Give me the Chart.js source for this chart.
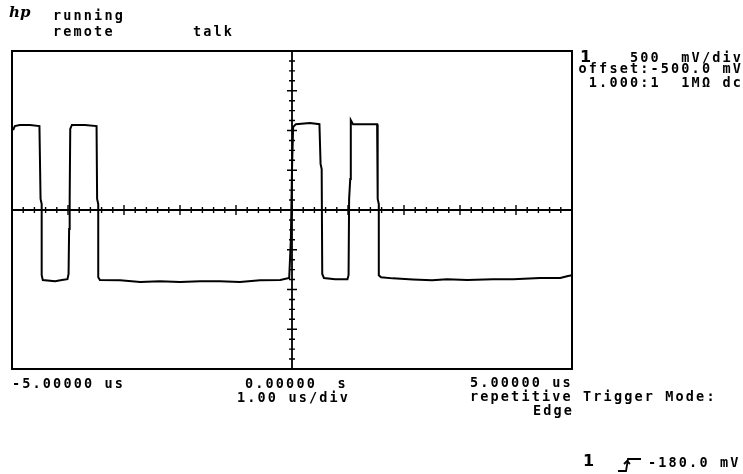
<!DOCTYPE html>
<html>
<head>
<meta charset="utf-8">
<script src="https://cdn.jsdelivr.net/npm/chart.js@4"></script>
<style>
  html, body { margin: 0; padding: 0; background: #fff; }
  #wrap { position: relative; width: 743px; height: 474px; overflow: hidden; }
  canvas { position: absolute; left: 0; top: 0; }
  .t {
    position: absolute; white-space: pre; color: #000;
    font-family: 'DejaVu Sans Mono', monospace; font-weight: bold; font-size: 13.5px; line-height: 13px;
    letter-spacing: 2.15px;
  }
  .big { font-family: 'DejaVu Sans', sans-serif; font-weight: bold; font-size: 16px; letter-spacing: 0; }
  .hp { font-family: 'DejaVu Serif', serif; font-style: italic; font-weight: bold; font-size: 15px; letter-spacing: 0; }
</style>
</head>
<body>
<div id="wrap">
  <canvas id="scope" width="743" height="474"></canvas>

  <div class="t hp" style="left:9px; top:6px;">hp</div>
  <div class="t" style="left:53px; top:9px;">running</div>
  <div class="t" style="left:53px; top:25px;">remote</div>
  <div class="t" style="left:193px; top:25px;">talk</div>

  <div class="t big" style="left:580px; top:50px;">1</div>
  <div class="t" style="right:0px; top:51px;">500  mV/div</div>
  <div class="t" style="right:0px; top:62px;">offset:-500.0 mV</div>
  <div class="t" style="right:0px; top:76px;">1.000:1  1MΩ dc</div>

  <div class="t" style="left:12px; top:377px;">-5.00000 us</div>
  <div class="t" style="left:245px; top:377px;">0.00000  s</div>
  <div class="t" style="left:237px; top:391px;">1.00 us/div</div>
  <div class="t" style="left:470px; top:376px;">5.00000 us</div>
  <div class="t" style="left:470px; top:390px;">repetitive Trigger Mode:</div>
  <div class="t" style="left:533px; top:404px;">Edge</div>

  <div class="t big" style="left:583px; top:454px;">1</div>
  <svg style="position:absolute; left:614px; top:454px;" width="30" height="20">
    <polyline points="4,17 12,17 14,5 27,5" fill="none" stroke="#000" stroke-width="1.8"/>
    <polyline points="10,10 13,7 16,10" fill="none" stroke="#000" stroke-width="1.8"/>
  </svg>
  <div class="t" style="left:648px; top:456px;">-180.0 mV</div>
</div>

<script>
// trace: time in us, channel 1 in mV
const timeUs = [-4.98, -4.95, -4.86, -4.68, -4.51, -4.49, -4.47, -4.47, -4.45, -4.23, -4.11, -4.01, -3.99, -3.98,
  -3.97, -3.96, -3.93, -3.70, -3.49, -3.48, -3.46, -3.46, -3.43, -3.07, -2.71, -2.36, -2.00, -1.64, -1.29, -0.93,
  -0.57, -0.21, -0.05, -0.02, 0.00, 0.02, 0.07, 0.32, 0.49, 0.51, 0.53, 0.54, 0.57, 0.77, 0.99, 1.01, 1.02, 1.04,
  1.05, 1.09, 1.30, 1.52, 1.53, 1.55, 1.55, 1.59, 1.80, 2.16, 2.50, 2.77, 3.13, 3.59, 3.95, 4.43, 4.79, 4.93, 5.00];
const voltageMv = [505, 555, 570, 570, 555, -360, -425, -1320, -1380, -1395, -1380, -1370, -1305, -740,
  -360, 520, 570, 570, 555, -360, -425, -1345, -1380, -1385, -1405, -1395, -1405, -1395, -1395, -1405,
  -1385, -1380, -1355, -865, 15, 545, 580, 595, 580, 80, 15, -1305, -1355, -1370, -1370, -1320, -360, -110,
  630, 580, 580, 580, -360, -425, -1320, -1345, -1360, -1375, -1385, -1370, -1380, -1370, -1370, -1355, -1355, -1330, -1320];

// screen setup
const timeRange = [-5, 5];        // us, 1.00 us/div
const voltsPerDiv = 500;          // mV/div
const offsetMv = -500;
const vDivs = 8;
const hMinorPerDiv = 5;
const vMinorPerDiv = 4;

// ── graticule: frame + centre cross with ticks ──
const graticule = {
  id: 'graticule',
  beforeDatasetsDraw(chart) {
    const { ctx, chartArea: a, scales: { x, y } } = chart;
    const cx = x.getPixelForValue(0);
    const cy = y.getPixelForValue(offsetMv);
    ctx.save();
    ctx.strokeStyle = '#000';
    ctx.lineWidth = 2;
    ctx.strokeRect(a.left, a.top, a.right - a.left, a.bottom - a.top);

    ctx.lineWidth = 1.8;
    ctx.beginPath();
    ctx.moveTo(a.left, cy); ctx.lineTo(a.right, cy);
    ctx.moveTo(cx, a.top); ctx.lineTo(cx, a.bottom);
    ctx.stroke();

    ctx.lineWidth = 1.4;
    ctx.beginPath();
    const hStep = 1 / hMinorPerDiv;
    for (let i = 0; i <= (timeRange[1] - timeRange[0]) * hMinorPerDiv; i++) {
      const t = timeRange[0] + i * hStep;
      const px = x.getPixelForValue(t);
      const len = (i % hMinorPerDiv === 0) ? 5 : 3;
      ctx.moveTo(px, cy - len); ctx.lineTo(px, cy + len);
    }
    const vStep = voltsPerDiv / vMinorPerDiv;
    const vMin = offsetMv - voltsPerDiv * vDivs / 2;
    for (let i = 0; i <= vDivs * vMinorPerDiv; i++) {
      const v = vMin + i * vStep;
      const py = y.getPixelForValue(v);
      const len = (i % vMinorPerDiv === 0) ? 5 : 3;
      ctx.moveTo(cx - len, py); ctx.lineTo(cx + len, py);
    }
    ctx.stroke();
    ctx.restore();
  }
};

new Chart(document.getElementById('scope'), {
  type: 'line',
  data: {
    datasets: [{
      data: timeUs.map((t, i) => ({ x: t, y: voltageMv[i] })),
      borderColor: '#000',
      borderWidth: 2,
      pointRadius: 0,
      tension: 0,
      fill: false,
    }]
  },
  options: {
    responsive: false,
    animation: false,
    layout: { padding: { left: 12, right: 171, top: 51, bottom: 105 } },
    plugins: { legend: { display: false }, tooltip: { enabled: false } },
    scales: {
      x: { type: 'linear', min: timeRange[0], max: timeRange[1], display: false },
      y: { type: 'linear', min: offsetMv - voltsPerDiv * vDivs / 2, max: offsetMv + voltsPerDiv * vDivs / 2, display: false }
    }
  },
  plugins: [graticule]
});
</script>
</body>
</html>
